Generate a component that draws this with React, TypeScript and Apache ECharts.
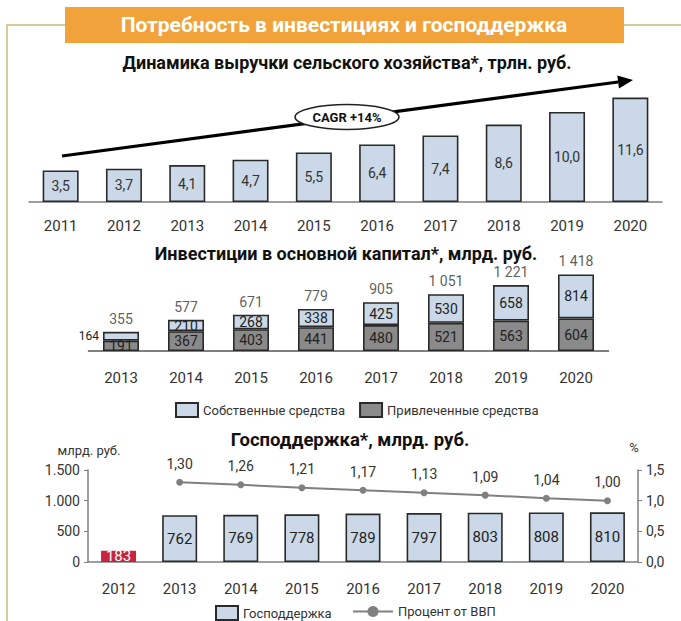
import React, { useEffect, useRef } from "react";
import * as echarts from "echarts";

const revenueYears = ["2011", "2012", "2013", "2014", "2015", "2016", "2017", "2018", "2019", "2020"];
const revenue = [3.5, 3.7, 4.1, 4.7, 5.5, 6.4, 7.4, 8.6, 10.0, 11.6];

const investYears = ["2013", "2014", "2015", "2016", "2017", "2018", "2019", "2020"];
const ownFunds = [164, 210, 268, 338, 425, 530, 658, 814];
const borrowedFunds = [191, 367, 403, 441, 480, 521, 563, 604];
const investTotals = [355, 577, 671, 779, 905, 1051, 1221, 1418];

const supportYears = ["2012", "2013", "2014", "2015", "2016", "2017", "2018", "2019", "2020"];
const support = [183, 762, 769, 778, 789, 797, 803, 808, 810];
const gdpShare = [null, 1.3, 1.26, 1.21, 1.17, 1.13, 1.09, 1.04, 1.0];

const FONT = "Roboto, 'Noto Sans', sans-serif";
const LIGHT = "#CAD8E7";
const DARK = "#8A8A8A";
const BORDER = "#2a2a2a";
const TXT = "#333333";

const comma = (v: number, d: number) => v.toFixed(d).replace(".", ",");
const spaced = (v: number) => (v >= 1000 ? `${Math.floor(v / 1000)} ${String(v % 1000).padStart(3, "0")}` : String(v));
const dotted = (v: number) => (v >= 1000 ? `${Math.floor(v / 1000)}.${String(v % 1000).padStart(3, "0")}` : String(v));

export default function App() {
  const ref = useRef<HTMLDivElement>(null);
  useEffect(() => {
    if (!ref.current) return;
    const chart = echarts.init(ref.current, null, { renderer: "svg" });

    // arrow geometry
    const sx = 62, sy = 156, tx = 633, ty = 80;
    const dx = tx - sx, dy = ty - sy;
    const len = Math.sqrt(dx * dx + dy * dy);
    const ux = dx / len, uy = dy / len;
    const nx = -uy, ny = ux;
    const hl = 15, hw = 6.5;
    const bx = tx - hl * ux, by = ty - hl * uy;

    const option: any = {
      animation: false,
      backgroundColor: "#ffffff",
      textStyle: { fontFamily: FONT },
      grid: [
        { left: 29, top: 85, width: 633, height: 117 },
        { left: 88.5, top: 270, width: 520, height: 81 },
        { left: 88, top: 470, width: 550, height: 92 },
      ],
      xAxis: [
        {
          gridIndex: 0, type: "category", data: revenueYears,
          axisLine: { lineStyle: { color: "#7f7f7f", width: 1.5 } },
          axisTick: { show: false },
          axisLabel: { color: TXT, fontSize: 15, margin: 16, fontFamily: FONT },
        },
        {
          gridIndex: 1, type: "category", data: investYears,
          axisLine: { lineStyle: { color: "#555", width: 1.5 } },
          axisTick: { show: false },
          axisLabel: { color: TXT, fontSize: 15, margin: 19, fontFamily: FONT },
        },
        {
          gridIndex: 2, type: "category", data: supportYears,
          axisLine: { lineStyle: { color: "#7f7f7f", width: 1.5 } },
          axisTick: { show: false },
          axisLabel: { color: TXT, fontSize: 15, margin: 19, fontFamily: FONT },
        },
      ],
      yAxis: [
        { gridIndex: 0, type: "value", min: 0, max: 13, show: false },
        { gridIndex: 1, type: "value", min: 0, max: 1500, show: false },
        {
          gridIndex: 2, type: "value", min: 0, max: 1500, interval: 500,
          axisLine: { show: true, lineStyle: { color: "#7f7f7f", width: 1.5 } },
          axisTick: { show: true, length: 4, lineStyle: { color: "#7f7f7f" } },
          splitLine: { show: false },
          axisLabel: { color: TXT, fontSize: 14, margin: 8, formatter: (v: number) => dotted(v), fontFamily: FONT },
        },
        {
          gridIndex: 2, type: "value", min: 0, max: 1.5, interval: 0.5, position: "right",
          axisLine: { show: true, lineStyle: { color: "#7f7f7f", width: 1.5 } },
          axisTick: { show: true, length: 4, lineStyle: { color: "#7f7f7f" } },
          splitLine: { show: false },
          axisLabel: { color: TXT, fontSize: 14, margin: 8, formatter: (v: number) => comma(v, 1), fontFamily: FONT },
        },
      ],
      legend: [
        {
          data: ["Собственные средства", "Привлеченные средства"],
          left: 170, top: 397, itemWidth: 22, itemHeight: 14, itemGap: 14, icon: "rect",
          textStyle: { color: TXT, fontSize: 13, fontFamily: FONT },
        },
        {
          data: ["Господдержка"],
          left: 210, top: 600, itemWidth: 22, itemHeight: 14, icon: "rect",
          textStyle: { color: TXT, fontSize: 13, fontFamily: FONT },
        },
        {
          data: ["Процент от ВВП"],
          left: 347, top: 600, itemWidth: 40, itemHeight: 14,
          textStyle: { color: TXT, fontSize: 13, fontFamily: FONT },
        },
      ],
      series: [
        {
          name: "Выручка", type: "bar", xAxisIndex: 0, yAxisIndex: 0, data: revenue, barWidth: 36,
          itemStyle: { color: LIGHT, borderColor: BORDER, borderWidth: 1.6 },
          label: { show: true, position: "inside", color: TXT, fontSize: 14, formatter: (p: any) => comma(p.value, 1), fontFamily: FONT },
        },
        {
          name: "Привлеченные средства", type: "bar", xAxisIndex: 1, yAxisIndex: 1, stack: "inv",
          data: borrowedFunds, barWidth: 36,
          itemStyle: { color: DARK, borderColor: BORDER, borderWidth: 1.6 },
          label: { show: true, position: "inside", color: "#222", fontSize: 14, fontFamily: FONT },
        },
        {
          name: "Собственные средства", type: "bar", xAxisIndex: 1, yAxisIndex: 1, stack: "inv",
          data: ownFunds.map((v, i) =>
            i === 0 ? { value: v, label: { position: "left", distance: 4, fontSize: 12 } } : v
          ),
          barWidth: 36,
          itemStyle: { color: LIGHT, borderColor: BORDER, borderWidth: 1.6 },
          label: { show: true, position: "inside", color: "#222", fontSize: 14, fontFamily: FONT },
        },
        {
          name: "Итого", type: "scatter", xAxisIndex: 1, yAxisIndex: 1, data: investTotals,
          symbolSize: 0, silent: true,
          label: { show: true, position: "top", distance: 6, color: TXT, fontSize: 14, formatter: (p: any) => spaced(p.value), fontFamily: FONT },
        },
        {
          name: "Господдержка", type: "bar", xAxisIndex: 2, yAxisIndex: 2, barWidth: 35,
          data: support.map((v, i) =>
            i === 0
              ? { value: v, itemStyle: { color: "#C8243F", borderColor: "#C8243F" }, label: { color: "#ffffff" } }
              : v
          ),
          itemStyle: { color: LIGHT, borderColor: BORDER, borderWidth: 1.6 },
          label: { show: true, position: "inside", color: "#222", fontSize: 15, fontFamily: FONT },
        },
        {
          name: "Процент от ВВП", type: "line", xAxisIndex: 2, yAxisIndex: 3, data: gdpShare,
          symbol: "circle", symbolSize: 7,
          lineStyle: { color: "#808080", width: 2 },
          itemStyle: { color: "#808080" },
          label: { show: true, position: "top", distance: 8, color: TXT, fontSize: 14, formatter: (p: any) => comma(p.value, 2), fontFamily: FONT },
        },
      ],
      graphic: [
        { type: "polyline", shape: { points: [[7, 621], [7, 25], [65, 25]] }, style: { stroke: "#D6CC9A", lineWidth: 2, fill: null } },
        { type: "line", shape: { x1: 624, y1: 25, x2: 681, y2: 25 }, style: { stroke: "#D6CC9A", lineWidth: 2 } },
        { type: "rect", shape: { x: 65, y: 7, width: 559, height: 36 }, style: { fill: "#F2A23A" } },
        {
          type: "text", x: 344, y: 25,
          style: { text: "Потребность в инвестициях и господдержка", fill: "#ffffff", font: `bold 21px ${FONT}`, textAlign: "center", textVerticalAlign: "middle" },
        },
        {
          type: "text", x: 347, y: 62,
          style: { text: "Динамика выручки сельского хозяйства*, трлн. руб.", fill: "#111", font: `bold 18px ${FONT}`, textAlign: "center", textVerticalAlign: "middle" },
        },
        {
          type: "text", x: 346, y: 253,
          style: { text: "Инвестиции в основной капитал*, млрд. руб.", fill: "#111", font: `bold 18px ${FONT}`, textAlign: "center", textVerticalAlign: "middle" },
        },
        {
          type: "text", x: 350, y: 440,
          style: { text: "Господдержка*, млрд. руб.", fill: "#111", font: `bold 18.5px ${FONT}`, textAlign: "center", textVerticalAlign: "middle" },
        },
        {
          type: "text", x: 89, y: 450,
          style: { text: "млрд. руб.", fill: TXT, font: `13px ${FONT}`, textAlign: "center", textVerticalAlign: "middle" },
        },
        {
          type: "text", x: 634, y: 447,
          style: { text: "%", fill: TXT, font: `13px ${FONT}`, textAlign: "center", textVerticalAlign: "middle" },
        },
        {
          type: "line", z: 10, shape: { x1: sx, y1: sy, x2: bx, y2: by },
          style: { stroke: "#000", lineWidth: 3.2 },
        },
        {
          type: "polygon", z: 10,
          shape: { points: [[tx, ty], [bx + hw * nx, by + hw * ny], [bx - hw * nx, by - hw * ny]] },
          style: { fill: "#000" },
        },
        {
          type: "ellipse", z: 11, shape: { cx: 347, cy: 117, rx: 52, ry: 12.5 },
          style: { fill: "#ffffff", stroke: "#222", lineWidth: 1.5 },
        },
        {
          type: "text", z: 12, x: 347, y: 117,
          style: { text: "CAGR +14%", fill: "#111", font: `bold 13px ${FONT}`, textAlign: "center", textVerticalAlign: "middle" },
        },
      ],
    };
    chart.setOption(option);
    return () => chart.dispose();
  }, []);

  return (
    <div
      ref={ref}
      style={{ position: "fixed", left: 0, top: 0, width: 681, height: 621 }}
    />
  );
}
